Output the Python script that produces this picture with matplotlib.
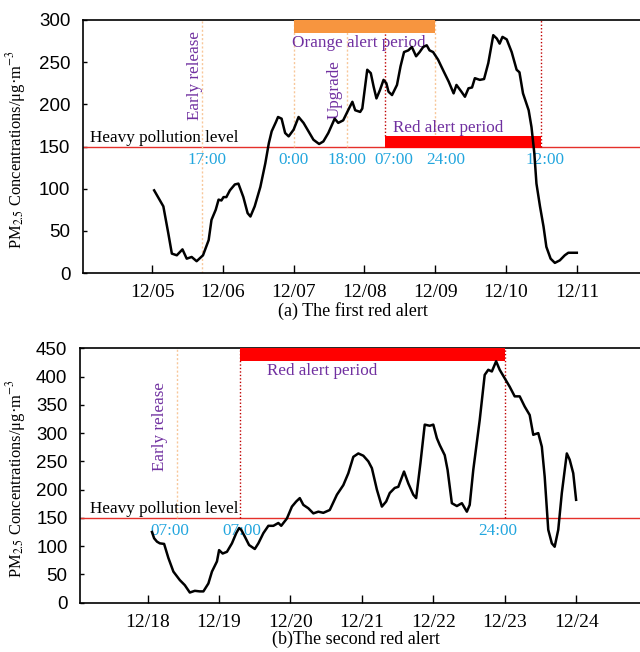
import numpy as np
import matplotlib
matplotlib.use("Agg")
import matplotlib.pyplot as plt

plt.rcParams["mathtext.fontset"] = "stix"

# ---- first red alert (days after 12/05 00:00) ----
days_a = [0.03, 0.16, 0.23, 0.28, 0.35, 0.43, 0.49, 0.56, 0.63, 0.72, 0.80,
          0.84, 0.90, 0.94, 0.98, 1.01, 1.05, 1.10, 1.17, 1.22, 1.29, 1.35,
          1.39, 1.45, 1.53, 1.60, 1.65, 1.69, 1.75, 1.78, 1.83, 1.88, 1.93,
          2.00, 2.07, 2.14, 2.21, 2.28, 2.36, 2.42, 2.49, 2.58, 2.63, 2.70,
          2.77, 2.83, 2.87, 2.94, 2.97, 3.04, 3.09, 3.13, 3.17, 3.22, 3.27,
          3.31, 3.34, 3.39, 3.46, 3.51, 3.56, 3.62, 3.67, 3.73, 3.78, 3.83,
          3.88, 3.92, 3.97, 4.04, 4.12, 4.19, 4.26, 4.30, 4.37, 4.42, 4.47,
          4.52, 4.56, 4.63, 4.69, 4.75, 4.82, 4.87, 4.91, 4.95, 5.01, 5.08,
          5.15, 5.19, 5.24, 5.32, 5.36, 5.40, 5.43, 5.48, 5.53, 5.57, 5.63,
          5.69, 5.76, 5.83, 5.88, 6.00]
pm_a = [98, 79, 47, 23, 21, 28, 17, 19, 14, 21, 39,
        63, 75, 87, 86, 90, 90, 98, 105, 106, 90, 71,
        67, 79, 102, 130, 154, 168, 179, 185, 183, 166, 162,
        170, 185, 178, 168, 158, 153, 156, 166, 183, 178, 181,
        193, 203, 193, 191, 195, 241, 237, 221, 207, 217, 229,
        225, 215, 211, 223, 245, 262, 264, 268, 257, 262, 268,
        270, 264, 262, 253, 239, 227, 213, 223, 215, 209, 219,
        220, 231, 229, 230, 249, 282, 278, 272, 280, 277, 262,
        241, 238, 213, 193, 173, 142, 106, 79, 55, 31, 17,
        12, 15, 21, 24, 24]
ticks_a = ["12/05", "12/06", "12/07", "12/08", "12/09", "12/10", "12/11"]

# ---- second red alert (days after 12/18 00:00) ----
days_b = [0.06, 0.09, 0.13, 0.17, 0.23, 0.29, 0.36, 0.45, 0.52, 0.59, 0.66,
          0.73, 0.78, 0.85, 0.90, 0.97, 1.00, 1.05, 1.11, 1.18, 1.24, 1.28,
          1.31, 1.36, 1.42, 1.50, 1.55, 1.62, 1.69, 1.76, 1.83, 1.87, 1.95,
          2.02, 2.08, 2.13, 2.18, 2.25, 2.32, 2.39, 2.46, 2.55, 2.65, 2.74,
          2.81, 2.88, 2.95, 3.02, 3.09, 3.14, 3.21, 3.28, 3.34, 3.39, 3.46,
          3.51, 3.59, 3.65, 3.72, 3.76, 3.82, 3.88, 3.95, 4.00, 4.05, 4.09,
          4.16, 4.20, 4.26, 4.33, 4.40, 4.47, 4.51, 4.56, 4.65, 4.72, 4.77,
          4.82, 4.88, 4.93, 5.00, 5.07, 5.14, 5.21, 5.28, 5.35, 5.40, 5.47,
          5.52, 5.56, 5.61, 5.66, 5.70, 5.75, 5.80, 5.87, 5.91, 5.96, 6.00]
pm_b = [125, 114, 108, 105, 104, 79, 55, 40, 31, 18, 21,
        20, 20, 34, 55, 73, 93, 87, 90, 105, 123, 132,
        129, 117, 102, 95, 105, 123, 136, 136, 141, 136, 149,
        170, 179, 185, 173, 167, 158, 161, 159, 164, 191, 208,
        229, 258, 264, 260, 250, 238, 200, 170, 179, 194, 203,
        205, 232, 211, 191, 185, 247, 315, 313, 315, 291, 279,
        261, 235, 176, 171, 176, 161, 173, 235, 323, 403, 412,
        409, 427, 412, 397, 382, 365, 365, 347, 332, 297, 300,
        276, 223, 129, 105, 99, 129, 194, 264, 253, 229, 182]
ticks_b = ["12/18", "12/19", "12/20", "12/21", "12/22", "12/23", "12/24"]

serif = "Liberation Serif"
sans = "Liberation Sans"
purple = "#7030A0"
cyan = "#22A6DE"
lightorange = "#F8C79A"
darkred = "#C00000"

fig = plt.figure(figsize=(6.4, 6.52), dpi=100)
W, H = 640.0, 652.0

axA = fig.add_axes([83 / W, (H - 273) / H, 564.6 / W, 253 / H])
axB = fig.add_axes([80 / W, (H - 602.7) / H, 567.5 / W, 254.4 / H])


def style(ax, ymax, tlabels, x0):
  ax.set_xlim(x0, 7)
  ax.set_ylim(0, ymax)
  ax.set_xticks(range(len(tlabels)))
  ax.set_xticklabels(tlabels, fontfamily=serif, fontsize=14)
  ax.set_yticks(np.arange(0, ymax + 1, 50))
  for lab in ax.get_yticklabels():
    lab.set_fontfamily(sans)
    lab.set_fontsize(13.5)
  ax.tick_params(axis="x", direction="in", length=6, width=1, pad=8)
  ax.tick_params(axis="y", direction="in", length=3, width=1, pad=9)
  for s in ["left", "top", "bottom"]:
    ax.spines[s].set_linewidth(1.2)
  ax.spines["right"].set_visible(False)
  ax.set_ylabel("PM$_{2.5}$ Concentrations/μg·m$^{-3}$", fontfamily=serif,
                fontsize=11.9)
  ax.axhline(150, color="#E5302A", lw=1.0, zorder=2)


# ---------------- panel (a) ----------------
style(axA, 300, ticks_a, -0.975)
axA.yaxis.set_label_coords(-0.0974, 0.486)
axA.fill_between([2, 4], 285, 300, color="#F7953F", lw=0, zorder=3)
axA.fill_between([3.29, 5.5], 148, 162, color="#FF0000", lw=0, zorder=3)
axA.plot([0.708, 0.708], [0, 300], ls=(0, (1.5, 1.5)), color=lightorange, lw=1)
for xv in [2, 2.75, 4]:
  axA.plot([xv, xv], [150, 300], ls=(0, (1.5, 1.5)), color=lightorange, lw=1)
axA.plot([3.29, 3.29], [162, 300], ls=(0, (1, 1.5)), color=darkred, lw=1)
axA.plot([5.5, 5.5], [150, 300], ls=(0, (1, 1.5)), color=darkred, lw=1)
axA.plot(days_a, pm_a, color="black", lw=1.8, zorder=4)

axA.text(-0.876, 151, "Heavy pollution level", fontfamily=serif, fontsize=12.3,
         ha="left", va="bottom")
axA.text(0.607, 234, "Early release", rotation=90, color=purple,
         fontfamily=serif, fontsize=12.3, ha="center", va="center")
axA.text(1.98, 273, "Orange alert period", color=purple, fontfamily=serif,
         fontsize=12.3, ha="left", va="center")
axA.text(2.585, 217, "Upgrade", rotation=90, color=purple, fontfamily=serif,
         fontsize=12.3, ha="center", va="center")
axA.text(3.40, 172, "Red alert period", color=purple, fontfamily=serif,
         fontsize=12.3, ha="left", va="center")
for xv, lab in zip([0.78, 2.0, 2.75, 3.42, 4.15, 5.55],
                   ["17:00", "0:00", "18:00", "07:00", "24:00", "12:00"]):
  axA.text(xv, 134, lab, color=cyan, fontfamily=serif, fontsize=12.3,
           ha="center", va="center")
fig.text(353 / W, 1 - 311 / H, "(a) The first red alert", fontfamily=serif,
         fontsize=13, ha="center", va="center")

# ---------------- panel (b) ----------------
style(axB, 450, ticks_b, -0.948)
axB.yaxis.set_label_coords(-0.0916, 0.486)
axB.fill_between([1.29, 5.0], 428, 450, color="#FF0000", lw=0, zorder=3)
axB.plot([0.41, 0.41], [150, 450], ls=(0, (1.5, 1.5)), color=lightorange, lw=1)
for xv in [1.29, 5.0]:
  axB.plot([xv, xv], [150, 450], ls=(0, (1, 1.5)), color=darkred, lw=1)
axB.plot(days_b, pm_b, color="black", lw=1.8, zorder=4)

axB.text(-0.81, 151, "Heavy pollution level", fontfamily=serif, fontsize=12.3,
         ha="left", va="bottom")
axB.text(0.17, 311, "Early release", rotation=90, color=purple,
         fontfamily=serif, fontsize=12.3, ha="center", va="center")
axB.text(1.67, 409, "Red alert period", color=purple, fontfamily=serif,
         fontsize=12.3, ha="left", va="center")
for xv, lab in zip([0.31, 1.32, 4.90], ["07:00", "07:00", "24:00"]):
  axB.text(xv, 127, lab, color=cyan, fontfamily=serif, fontsize=12.3,
           ha="center", va="center")
fig.text(356 / W, 1 - 639 / H, "(b)The second red alert", fontfamily=serif,
         fontsize=13, ha="center", va="center")

fig.savefig("out.png", dpi=100)
